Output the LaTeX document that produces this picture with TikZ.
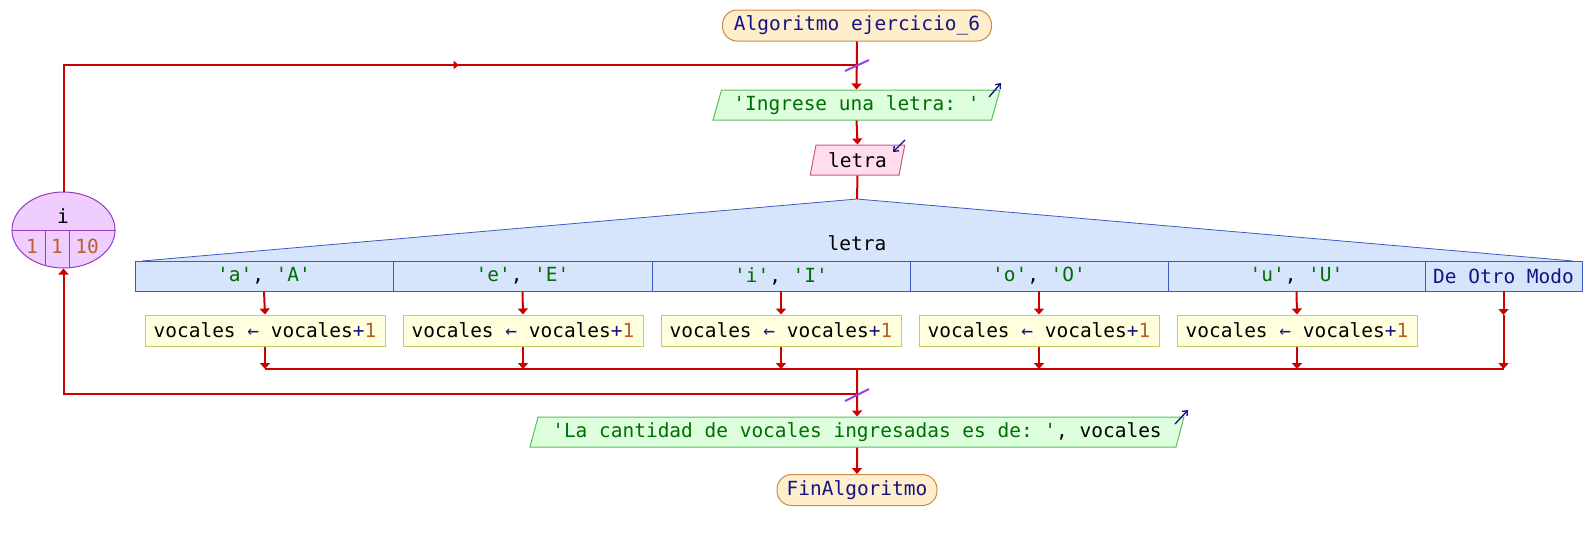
\documentclass[tikz,border=0pt]{standalone}
\usepackage{fontspec}
\setmonofont{DejaVu Sans Mono}
\usetikzlibrary{shapes.geometric,arrows.meta}
\definecolor{navy}{RGB}{20,20,130}
\definecolor{strg}{RGB}{0,110,0}
\definecolor{numc}{RGB}{185,95,45}
\definecolor{flow}{RGB}{204,0,0}
\definecolor{slashc}{RGB}{150,70,220}
\definecolor{termf}{RGB}{255,238,204}
\definecolor{termd}{RGB}{200,140,70}
\definecolor{outf}{RGB}{221,255,221}
\definecolor{outd}{RGB}{90,190,90}
\definecolor{inf}{RGB}{255,221,238}
\definecolor{ind}{RGB}{200,90,130}
\definecolor{swf}{RGB}{214,228,252}
\definecolor{swd}{RGB}{60,90,200}
\definecolor{asf}{RGB}{255,255,221}
\definecolor{asd}{RGB}{200,200,100}
\definecolor{lpf}{RGB}{240,205,255}
\definecolor{lpd}{RGB}{150,60,200}
\newcommand\pxu{0.75pt}
\tikzset{
  every node/.style={font=\ttfamily\fontsize{14.6}{17}\selectfont, inner sep=0pt},
  term/.style={draw=termd, fill=termf, rounded corners=11pt, minimum height=31*\pxu, line width=0.75pt, text=navy},
  outbox/.style={trapezium, trapezium left angle=68, trapezium right angle=112, trapezium stretches=true, draw=outd, fill=outf, minimum height=30*\pxu, line width=0.75pt},
  inbox/.style={trapezium, trapezium left angle=75, trapezium right angle=105, trapezium stretches=true, draw=ind, fill=inf, minimum height=30*\pxu, line width=0.75pt},
  casecell/.style={rectangle, draw=swd, fill=swf, minimum height=30*\pxu, line width=0.6pt},
  asg/.style={rectangle, draw=asd, fill=asf, minimum width=240*\pxu, minimum height=31*\pxu, line width=0.75pt},
  flowline/.style={draw=flow, line width=1.5pt},
  arr/.style={flowline, -{Triangle[width=7.5pt,length=4.5pt]}},
  smallarr/.style={flowline, -{Triangle[width=6pt,length=4pt]}},
  slash/.style={draw=slashc, line width=1.5pt},
  icon/.style={draw=navy, line width=1pt, -{Straight Barb[width=5pt,length=3pt]}},
}
\newcommand\asgtext{vocales {\color{navy}←} vocales{\color{navy}+}{\color{numc}1}}
\begin{document}
\begin{tikzpicture}[x=0.75pt,y=-0.75pt]
\useasboundingbox (0,0) rectangle (1589,540);
% nodes
\node[term, minimum width=269*\pxu] (start) at (857,25.5) {Algoritmo ejercicio\_6};
\node[outbox, minimum width=287*\pxu, text=strg] (out1) at (856.5,105) {'Ingrese una letra: '};
\node[inbox, minimum width=95*\pxu] (in1) at (857.5,160) {letra};
\coordinate (apex) at (857,199);
\fill[swf] (apex) -- (142,261) -- (1573,261) -- cycle;
\draw[swd, line width=0.6pt] (142,261) -- (apex) -- (1573,261);
\node (sw) at (857,243) {letra};
\node[casecell, minimum width=258*\pxu] (c1) at (264,276) {{\color{strg}'a'}, {\color{strg}'A'}};
\node[casecell, minimum width=259*\pxu] (c2) at (522.5,276) {{\color{strg}'e'}, {\color{strg}'E'}};
\node[casecell, minimum width=258*\pxu] (c3) at (781,276) {{\color{strg}'i'}, {\color{strg}'I'}};
\node[casecell, minimum width=258*\pxu] (c4) at (1039,276) {{\color{strg}'o'}, {\color{strg}'O'}};
\node[casecell, minimum width=257*\pxu] (c5) at (1296.5,276) {{\color{strg}'u'}, {\color{strg}'U'}};
\node[casecell, minimum width=157*\pxu, text=navy] (c6) at (1503.5,276) {De Otro Modo};
\node[asg] (a1) at (265,330.5) {\asgtext};
\node[asg] (a2) at (523,330.5) {\asgtext};
\node[asg] (a3) at (781,330.5) {\asgtext};
\node[asg] (a4) at (1039,330.5) {\asgtext};
\node[asg] (a5) at (1297,330.5) {\asgtext};
\coordinate (d6) at (1503.5,315);
\coordinate (m1) at (265,369);
\coordinate (m2) at (523,369);
\coordinate (m3) at (781,369);
\coordinate (m4) at (1039,369);
\coordinate (m5) at (1297,369);
\coordinate (m6) at (1503.5,369);
\coordinate (mm) at (857,369);
\node[outbox, minimum width=658*\pxu] (out2) at (857,432) {{\color{strg}'La cantidad de vocales ingresadas es de: '}, vocales};
\node[term, minimum width=160*\pxu] (end) at (857,490) {FinAlgoritmo};
% loop node
\node[ellipse, draw=lpd, fill=lpf, line width=0.75pt, minimum width=103*\pxu, minimum height=76*\pxu] (loop) at (63.5,230) {};
\draw[lpd, line width=0.75pt] (loop.west) -- (loop.east);
\draw[lpd, line width=0.75pt] (45,230) -- (45,265.5);
\draw[lpd, line width=0.75pt] (69,230) -- (69,267.8);
\node (lv) at (63,216) {i};
\node[text=numc] (l1) at (32,246) {1};
\node[text=numc] (l2) at (57,246) {1};
\node[text=numc] (l3) at (87,246) {10};
\coordinate (j1) at (857,65);
\coordinate (j2) at (857,394);
\coordinate (lc1) at (63.5,65);
\coordinate (lmid) at (459,65);
% connectors
\draw[arr] (start.south) -- (out1.north);
\draw[flowline] (loop.north) -- (lc1) -- (j1);
\draw[smallarr] (lc1) -- (lmid);
\draw[arr] (out1.south) -- (in1.north);
\draw[flowline] (in1.south) -- (apex);
\foreach \i in {1,...,5}{
  \draw[arr] (c\i.south) -- (a\i.north);
  \draw[arr] (a\i.south) -- (m\i);
}
\draw[arr] (c6.south) -- (d6);
\draw[arr] (d6) -- (m6);
\draw[flowline] (m1) -- (m6);
\draw[arr] (mm) -- (out2.north);
\draw[arr] (j2) -| (loop.south);
\draw[arr] (out2.south) -- (end.north);
% slashes
\draw[slash] (845,71) -- (869,60);
\draw[slash] (845,401) -- (869,389);
% io icons
\draw[icon] (989,97) -- (1001,83);
\draw[icon] (905,140) -- (893,152);
\draw[icon] (1175,424) -- (1188,410);
\end{tikzpicture}
\end{document}
